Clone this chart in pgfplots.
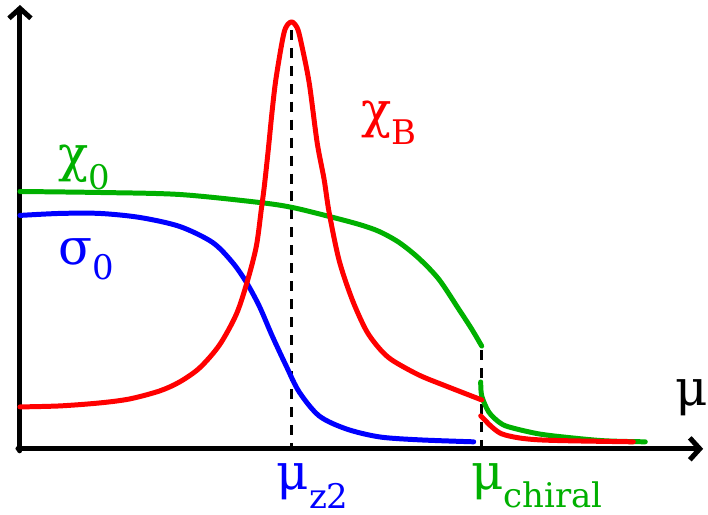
\documentclass[border=0pt]{standalone}
\usepackage{fontspec}
\setmainfont{DejaVu Serif}
\usepackage{pgfplots}
\pgfplotsset{compat=1.18}
\usetikzlibrary{arrows.meta}

\definecolor{cgreen}{RGB}{0,176,0}
\definecolor{cred}{RGB}{255,0,0}
\definecolor{cblue}{RGB}{0,0,255}

% greek symbol plus lowered subscript
\newcommand{\lab}[3]{\smash{{\fontsize{25}{30}\selectfont #1}\raisebox{-#3}{\fontsize{17}{22}\selectfont #2}}}

\begin{document}
\begin{tikzpicture}
\begin{axis}[
    hide axis,
    scale only axis,
    width=354pt, height=258pt,
    xmin=0, xmax=708, ymin=0, ymax=516,
    clip=false,
    every axis plot/.append style={line width=2.5pt, line cap=round, line join=round},
]
% frame of the picture
\addplot[draw=none] coordinates {(0,0) (708,516)};
% axes
\addplot[black, -{Straight Barb[length=5pt,width=11pt]}] coordinates {(18,66) (705,66)};
\addplot[black, -{Straight Barb[length=5pt,width=11pt]}] coordinates {(20,64) (20,511)};
% dashed markers
\addplot[black, line width=1.5pt, line cap=butt, dash pattern=on 5pt off 4pt] coordinates {(292,486) (292,66)};
\addplot[black, line width=1.5pt, line cap=butt, dash pattern=on 5pt off 4pt] coordinates {(483,165) (483,66)};
% chi_0
\addplot[cgreen, smooth] coordinates {
    (20,324) (100,323) (180,321) (260,313) (293,308) (330,299) (360,291)
    (380,284) (400,273) (420,257) (440,236) (460,206) (473,186) (483,169)
};
\addplot[cgreen, smooth] coordinates {
    (482,133) (483,119) (490,103) (500,93) (510,88) (540,81) (573,77) (607,74) (647,73)
};
% sigma_0
\addplot[cblue, smooth] coordinates {
    (20,300) (60,302) (100,302) (140,298) (180,289) (213,273) (233,253) (247,233)
    (260,209) (273,179) (287,149) (300,123) (320,99) (347,86) (380,78) (420,75) (475,73)
};
% chi_B
\addplot[cred, smooth] coordinates {
    (20,108) (60,109) (100,112) (130,116) (160,124) (180,133) (200,147) (220,170) (237,201)
    (248,234) (257,269) (262,306) (265,329) (269,366) (273,406) (277,439) (285,484)
    (292,494) (298,488) (302,473) (310,433) (318,373) (325,336) (330,303) (340,255)
    (353,216) (367,185) (380,167) (393,155) (420,140) (447,129) (483,115)
};
\addplot[cred, smooth] coordinates {
    (482,99) (487,94) (493,88) (503,81) (520,77) (540,75) (573,74) (635,73)
};
% labels
\node[anchor=base west, text=cgreen, inner sep=0pt] at (axis cs:58,344) {\lab{χ}{0}{9pt}};
\node[anchor=base west, text=cblue, inner sep=0pt] at (axis cs:58,251) {\lab{σ}{0}{7.5pt}};
\node[anchor=base west, text=cred, inner sep=0pt] at (axis cs:362,388) {\lab{χ}{B}{8.5pt}};
\node[anchor=base west, text=black, inner sep=0pt] at (axis cs:677,109) {\lab{μ}{}{0pt}};
\node[anchor=base west, text=cblue, inner sep=0pt] at (axis cs:277,25) {\lab{μ}{z2}{9.5pt}};
\node[anchor=base west, text=cgreen, inner sep=0pt] at (axis cs:472,25) {\lab{μ}{chiral}{9pt}};
\end{axis}
\end{tikzpicture}
\end{document}
